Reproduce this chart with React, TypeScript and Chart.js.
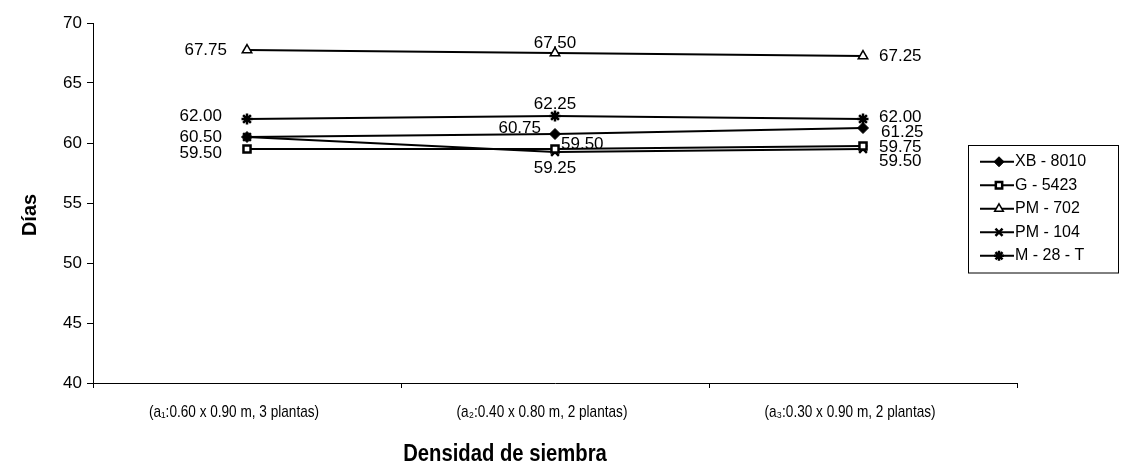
import { useEffect, useRef } from 'react';
import { Chart, registerables } from 'chart.js';
import { drawPoint } from 'chart.js/helpers';

Chart.register(...registerables);

// Planting density treatments (x axis)
const categories = [
  '(a₁:0.60 x 0.90 m, 3 plantas)',
  '(a₂:0.40 x 0.80 m, 2 plantas)',
  '(a₃:0.30 x 0.90 m, 2 plantas)',
];

// Days per hybrid / variety
const seriesNames = ['XB - 8010', 'G - 5423', 'PM - 702', 'PM - 104', 'M - 28 - T'];
const xb8010 = [60.5, 60.75, 61.25];
const g5423 = [59.5, 59.5, 59.75];
const pm702 = [67.75, 67.5, 67.25];
const pm104 = [60.5, 59.25, 59.5];
const m28t = [62.0, 62.25, 62.0];

const yMin = 40;
const yMax = 70;
const yStep = 5;

const SANS = '"Liberation Sans", Arial, sans-serif';

type Marker = { style: string; radius: number; fill: string; border: number };
const markers: Marker[] = [
  { style: 'rectRot', radius: 5.5, fill: '#000', border: 1 },
  { style: 'rect', radius: 5, fill: '#fff', border: 2.5 },
  { style: 'triangle', radius: 5.5, fill: '#fff', border: 1.5 },
  { style: 'crossRot', radius: 5.5, fill: '#000', border: 2.5 },
  { style: 'star', radius: 5.5, fill: '#000', border: 2.5 },
];

// Value label placement per series and category: [dx, dy, align] relative to the point
type Place = [number, number, CanvasTextAlign] | null;
const labelPlacement: Place[][] = [
  [[-25, 0, 'right'], [-14, -6, 'right'], [18, 4, 'left']],
  [[-25, 4, 'right'], [6, -5, 'left'], [16, 1, 'left']],
  [[-20, 0, 'right'], [0, -10, 'center'], [16, 0, 'left']],
  [null, [0, 16, 'center'], [16, 12, 'left']],
  [[-25, -3, 'right'], [0, -12, 'center'], [16, -2, 'left']],
];

// Draws condensed text (horizontal squeeze) centred at x
function condensedText(ctx: CanvasRenderingContext2D, text: string, x: number, y: number, squeeze: number) {
  ctx.save();
  ctx.translate(x, y);
  ctx.scale(squeeze, 1);
  ctx.textAlign = 'center';
  ctx.textBaseline = 'middle';
  ctx.fillText(text, 0, 0);
  ctx.restore();
}

const valueLabels = {
  id: 'valueLabels',
  afterDatasetsDraw(chart: Chart) {
    const ctx = chart.ctx;
    ctx.save();
    ctx.font = `17px ${SANS}`;
    ctx.fillStyle = '#000';
    ctx.textBaseline = 'middle';
    chart.data.datasets.forEach((ds, i) => {
      const meta = chart.getDatasetMeta(i);
      meta.data.forEach((pt, j) => {
        const p = labelPlacement[i][j];
        if (!p) return;
        const v = ds.data[j] as number;
        ctx.textAlign = p[2];
        ctx.fillText(v.toFixed(2), pt.x + p[0], pt.y + p[1]);
      });
    });
    ctx.restore();
  },
};

const boxLegend = {
  id: 'boxLegend',
  afterDraw(chart: Chart) {
    const ctx = chart.ctx;
    const left = 968;
    const top = 145;
    const w = 150;
    const rowH = 23.5;
    const h = rowH * seriesNames.length + 10;
    ctx.save();
    ctx.strokeStyle = '#000';
    ctx.lineWidth = 1;
    ctx.strokeRect(left + 0.5, top + 0.5, w, h);
    ctx.font = `16px ${SANS}`;
    ctx.textBaseline = 'middle';
    ctx.textAlign = 'left';
    seriesNames.forEach((name, i) => {
      const y = top + 5 + rowH * (i + 0.5);
      ctx.strokeStyle = '#000';
      ctx.lineWidth = 2;
      ctx.beginPath();
      ctx.moveTo(left + 12, y);
      ctx.lineTo(left + 46, y);
      ctx.stroke();
      const m = markers[i];
      ctx.fillStyle = m.fill;
      ctx.lineWidth = m.border;
      drawPoint(ctx, { pointStyle: m.style as any, rotation: 0, radius: m.radius - 0.5, borderWidth: m.border }, left + 31, y);
      ctx.fillStyle = '#000';
      ctx.fillText(name, left + 47, y);
    });
    ctx.restore();
  },
};

const axisText = {
  id: 'axisText',
  afterDraw(chart: Chart) {
    const ctx = chart.ctx;
    const area = chart.chartArea;
    const xs = chart.scales.x;
    ctx.save();
    ctx.fillStyle = '#000';
    // category labels
    ctx.font = `17px ${SANS}`;
    categories.forEach((c, i) => {
      condensedText(ctx, c, xs.getPixelForValue(i) - 13, area.bottom + 29, 0.8);
    });
    // x title
    ctx.font = `bold 23px ${SANS}`;
    condensedText(ctx, 'Densidad de siembra', 505, 455, 0.88);
    // y title
    ctx.translate(30, 215);
    ctx.rotate(-Math.PI / 2);
    ctx.textAlign = 'center';
    ctx.textBaseline = 'middle';
    ctx.font = `bold 20px ${SANS}`;
    ctx.fillText('Días', 0, 0);
    ctx.restore();
  },
};

export default function App() {
  const ref = useRef<HTMLCanvasElement>(null);

  useEffect(() => {
    if (!ref.current) return;
    const all = [xb8010, g5423, pm702, pm104, m28t];
    const chart = new Chart(ref.current, {
      type: 'line',
      data: {
        labels: categories,
        datasets: all.map((values, i) => ({
          label: seriesNames[i],
          data: values,
          borderColor: '#000',
          borderWidth: 2,
          pointStyle: markers[i].style as any,
          pointRadius: markers[i].radius,
          pointBackgroundColor: markers[i].fill,
          pointBorderColor: '#000',
          pointBorderWidth: markers[i].border,
          tension: 0,
        })),
      },
      options: {
        responsive: false,
        animation: false,
        layout: { padding: { top: 23, right: 107, left: 0, bottom: 0 } },
        plugins: { legend: { display: false }, tooltip: { enabled: false } },
        scales: {
          x: {
            type: 'category',
            offset: true,
            border: { display: true, color: '#000', width: 1 },
            grid: { display: true, drawOnChartArea: false, offset: true, tickLength: 5, color: '#000' },
            ticks: { display: false },
            afterFit: (s: any) => { s.height = 86; },
          },
          y: {
            min: yMin,
            max: yMax,
            border: { display: true, color: '#000', width: 1 },
            grid: { display: true, drawOnChartArea: false, tickLength: 6, color: '#000' },
            ticks: { stepSize: yStep, color: '#000', font: { family: SANS, size: 17 }, padding: 5 },
            afterFit: (s: any) => { s.width = 93; },
          },
        },
      },
      plugins: [valueLabels, boxLegend, axisText],
    });
    return () => chart.destroy();
  }, []);

  return (
    <div style={{ position: 'absolute', left: 0, top: 0, width: 1124, height: 469, background: '#fff' }}>
      <canvas ref={ref} width={1124} height={469} />
    </div>
  );
}
